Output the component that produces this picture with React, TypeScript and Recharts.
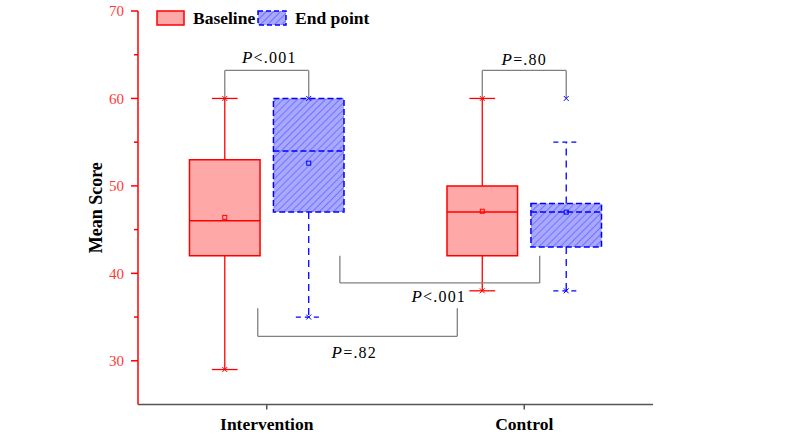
import React from 'react';
import {
  ComposedChart,
  XAxis,
  YAxis,
  Scatter,
  ReferenceArea,
  ReferenceLine,
  ReferenceDot,
  Legend,
} from 'recharts';

const categories = ['Intervention', 'Control'];
const seriesNames = ['Baseline', 'End point'];

// baseline box stats
const baselineQ1 = [42, 42];
const baselineMedian = [46, 47];
const baselineQ3 = [53, 50];
const baselineMean = [46.4, 47.1];
const baselineWhiskerLow = [29, 38];
const baselineWhiskerHigh = [60, 60];
const baselineMin = [29, 38];
const baselineMax = [60, 60];

// end point box stats
const endQ1 = [47, 43];
const endMedian = [54, 47];
const endQ3 = [60, 48];
const endMean = [52.6, 47];
const endWhiskerLow = [35, 38];
const endWhiskerHigh = [60, 55];
const endMin = [35, 38];
const endMax = [60, 60];

const yTicks = [30, 35, 40, 45, 50, 55, 60, 65, 70];

// significance brackets
const bracketX1 = [0.837, 1.837, 1.284, 0.965];
const bracketX2 = [1.163, 2.163, 2.06, 1.74];
const bracketFrom = [60, 60, 42, 36];
const bracketTo = [63.2, 63.2, 38.9, 32.8];
const pTexts = ['<.001', '=.80', '<.001', '=.82'];
const pTextX = [1.01, 2.0, 1.668, 1.34];
const pTextY = [64, 63.8, 36.7, 30.3];

const FONT = "'Liberation Serif', 'Times New Roman', serif";
const RED = '#FF0000';
const PINK = '#FFA8A8';
const BLUE = '#0000FF';
const BRACKET = '#808080';

const BOX_OFFSET = 0.163;
const BOX_HALF = 0.137;
const CAP_HALF = 0.05;

const series = [
  {
    name: seriesNames[0], offset: -BOX_OFFSET, q1: baselineQ1, median: baselineMedian, q3: baselineQ3,
    mean: baselineMean, low: baselineWhiskerLow, high: baselineWhiskerHigh, min: baselineMin, max: baselineMax,
    stroke: RED, fill: PINK, boxDash: undefined as string | undefined, lineDash: undefined as string | undefined,
  },
  {
    name: seriesNames[1], offset: BOX_OFFSET, q1: endQ1, median: endMedian, q3: endQ3,
    mean: endMean, low: endWhiskerLow, high: endWhiskerHigh, min: endMin, max: endMax,
    stroke: BLUE, fill: 'url(#hatchBlue)', boxDash: '6 3', lineDash: '7 5',
  },
];

const YTick = (props: any) => {
  const { x, y, payload } = props;
  const v = payload.value;
  const major = v % 10 === 0;
  const axisX = x + 14;
  return (
    <g>
      <line x1={axisX - (major ? 7 : 4)} x2={axisX} y1={y} y2={y} stroke={RED} strokeWidth={1.5} />
      {major && (
        <text x={x} y={y} dy="0.35em" textAnchor="end" fill="#FF3838" fontSize={15} fontFamily={FONT}>
          {v}
        </text>
      )}
    </g>
  );
};

const YLabel = (props: any) => {
  const { viewBox } = props;
  const cx = viewBox.x + 96;
  const cy = viewBox.y + viewBox.height / 2;
  return (
    <text x={cx} y={cy} transform={`rotate(-90 ${cx} ${cy})`} textAnchor="middle" dy="0.35em"
      fontSize={18} fontWeight="bold" fontFamily={FONT} fill="#000">
      Mean Score
    </text>
  );
};

const MeanMark = (color: string) => (props: any) => (
  <rect x={props.cx - 2} y={props.cy - 2} width={4} height={4} fill="none" stroke={color} strokeWidth={1} />
);

const CrossMark = (color: string) => (props: any) => (
  <path
    d={`M${props.cx - 2.5},${props.cy - 2.5}L${props.cx + 2.5},${props.cy + 2.5}M${props.cx - 2.5},${props.cy + 2.5}L${props.cx + 2.5},${props.cy - 2.5}`}
    stroke={color} strokeWidth={1} fill="none"
  />
);

const PLabel = (text: string) => (props: any) => (
  <text x={props.cx} y={props.cy} textAnchor="middle" fontSize={16} fontFamily={FONT} fill="#000" letterSpacing={1.2}>
    <tspan fontStyle="italic" fontSize={17}>P</tspan>
    {text}
  </text>
);

const renderLegend = () => (
  <svg width={260} height={32}>
    <rect x={7} y={11} width={27} height={14} fill={PINK} stroke={RED} strokeWidth={1.5} />
    <text x={43} y={24} fontSize={17.5} fontWeight="bold" fontFamily={FONT} fill="#000">{seriesNames[0]}</text>
    <rect x={108} y={11} width={28} height={14} fill="url(#hatchBlue)" stroke={BLUE} strokeWidth={1.5} strokeDasharray="5 3" />
    <text x={145} y={24} fontSize={17.5} fontWeight="bold" fontFamily={FONT} fill="#000">{seriesNames[1]}</text>
  </svg>
);

export default function App() {
  const boxElements = series.flatMap((s, si) =>
    categories.flatMap((c, ci) => {
      const cx = ci + 1 + s.offset;
      const k = `${si}-${ci}`;
      const els = [
        <ReferenceArea key={`box-${k}`} x1={cx - BOX_HALF} x2={cx + BOX_HALF} y1={s.q1[ci]} y2={s.q3[ci]}
          fill={s.fill} fillOpacity={1} stroke={s.stroke} strokeWidth={1.5} strokeDasharray={s.boxDash} />,
        <ReferenceLine key={`med-${k}`} segment={[{ x: cx - BOX_HALF, y: s.median[ci] }, { x: cx + BOX_HALF, y: s.median[ci] }]}
          stroke={s.stroke} strokeWidth={1.5} strokeDasharray={s.boxDash} />,
        <ReferenceLine key={`wl-${k}`} segment={[{ x: cx, y: s.q1[ci] }, { x: cx, y: s.low[ci] }]}
          stroke={s.stroke} strokeWidth={1.3} strokeDasharray={s.lineDash} />,
        <ReferenceLine key={`cl-${k}`} segment={[{ x: cx - CAP_HALF, y: s.low[ci] }, { x: cx + CAP_HALF, y: s.low[ci] }]}
          stroke={s.stroke} strokeWidth={1.3} strokeDasharray={s.lineDash ? '5 4' : undefined} />,
      ];
      if (s.high[ci] > s.q3[ci]) {
        els.push(
          <ReferenceLine key={`wh-${k}`} segment={[{ x: cx, y: s.q3[ci] }, { x: cx, y: s.high[ci] }]}
            stroke={s.stroke} strokeWidth={1.3} strokeDasharray={s.lineDash} />,
          <ReferenceLine key={`ch-${k}`} segment={[{ x: cx - CAP_HALF, y: s.high[ci] }, { x: cx + CAP_HALF, y: s.high[ci] }]}
            stroke={s.stroke} strokeWidth={1.3} strokeDasharray={s.lineDash ? '5 4' : undefined} />,
        );
      }
      return els;
    }),
  );

  const bracketElements = bracketX1.flatMap((x1, i) => [
    <ReferenceLine key={`bl-${i}`} segment={[{ x: x1, y: bracketFrom[i] }, { x: x1, y: bracketTo[i] }]} stroke={BRACKET} strokeWidth={1.3} />,
    <ReferenceLine key={`bm-${i}`} segment={[{ x: x1, y: bracketTo[i] }, { x: bracketX2[i], y: bracketTo[i] }]} stroke={BRACKET} strokeWidth={1.3} />,
    <ReferenceLine key={`br-${i}`} segment={[{ x: bracketX2[i], y: bracketFrom[i] }, { x: bracketX2[i], y: bracketTo[i] }]} stroke={BRACKET} strokeWidth={1.3} />,
    <ReferenceDot key={`bt-${i}`} x={pTextX[i]} y={pTextY[i]} r={0} shape={PLabel(pTexts[i])} />,
  ]);

  return (
    <div style={{ position: 'absolute', left: 0, top: 0, width: 800, height: 439, background: '#fff' }}>
      <svg width={0} height={0} style={{ position: 'absolute' }}>
        <defs>
          <pattern id="hatchBlue" patternUnits="userSpaceOnUse" width={5} height={5} patternTransform="rotate(45)">
            <rect width={5} height={5} fill="#A8A8FF" />
            <line x1={0} y1={0} x2={0} y2={5} stroke="#4040FF" strokeWidth={1} />
          </pattern>
        </defs>
      </svg>
      <ComposedChart width={800} height={439} margin={{ top: 11, right: 147, bottom: 0, left: 0 }}>
        <XAxis type="number" dataKey="x" domain={[0.5, 2.5]} ticks={[1, 2]} allowDataOverflow height={34.5}
          tickFormatter={(v: number) => categories[v - 1]}
          stroke="#555" strokeWidth={1.5} tickSize={5} tickMargin={8}
          tick={{ fill: '#000', fontSize: 17.5, fontWeight: 'bold', fontFamily: FONT }} />
        <YAxis type="number" domain={[25, 70]} ticks={yTicks} interval={0} allowDataOverflow width={138}
          axisLine={{ stroke: RED, strokeWidth: 1.5 }} tickLine={false} tickSize={7} tickMargin={7}
          tick={<YTick />} label={YLabel} />
        <Legend content={renderLegend} layout="horizontal" verticalAlign="middle" align="center"
          wrapperStyle={{ top: 0, left: 150, width: 260 }} />
        {boxElements}
        {bracketElements}
        {series.map((s, si) => (
          <Scatter key={`mean-${si}`} name={`${s.name} mean`} dataKey="y" isAnimationActive={false}
            data={categories.map((c, ci) => ({ x: ci + 1 + s.offset, y: s.mean[ci] }))}
            shape={MeanMark(s.stroke)} legendType="none" />
        ))}
        {series.map((s, si) => (
          <Scatter key={`ext-${si}`} name={`${s.name} extremes`} dataKey="y" isAnimationActive={false}
            data={categories.flatMap((c, ci) => [
              { x: ci + 1 + s.offset, y: s.min[ci] },
              { x: ci + 1 + s.offset, y: s.max[ci] },
            ])}
            shape={CrossMark(s.stroke)} legendType="none" />
        ))}
      </ComposedChart>
    </div>
  );
}
